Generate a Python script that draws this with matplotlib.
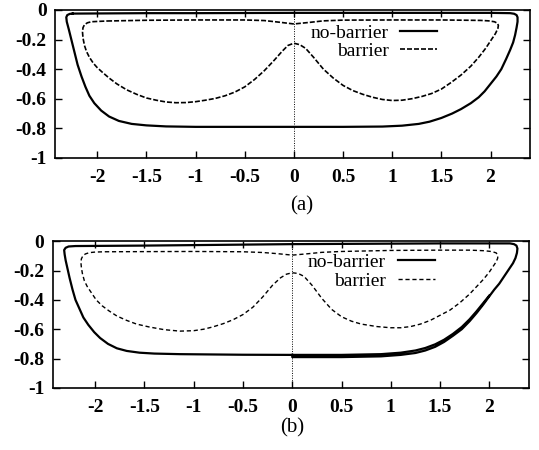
import matplotlib
matplotlib.use("Agg")
import matplotlib.pyplot as plt

# ---------------- data ----------------
# panel (a): no-barrier loop
a_nb_x = [-2.25, -1.5, -1.0, 0.0, 1.0, 2.0, 2.2, 2.24, 2.265, 2.275, 2.275, 2.265, 2.25, 2.23, 2.2,
          2.16, 2.11, 2.06, 2.0, 1.94, 1.88, 1.8, 1.7, 1.61, 1.5, 1.38, 1.27, 1.1, 0.9, 0.5, 0.0,
          -0.5, -1.0, -1.3, -1.5, -1.65, -1.78, -1.88, -1.96, -2.03, -2.08, -2.12, -2.16, -2.2,
          -2.23, -2.26, -2.29, -2.31, -2.315, -2.305, -2.28, -2.25]
a_nb_y = [-0.025, -0.022, -0.022, -0.02, -0.02, -0.02, -0.022, -0.026, -0.035, -0.05, -0.08, -0.12,
          -0.17, -0.22, -0.27, -0.33, -0.40, -0.45, -0.5, -0.55, -0.59, -0.63, -0.67, -0.70, -0.73,
          -0.755, -0.77, -0.782, -0.788, -0.79, -0.79, -0.79, -0.79, -0.787, -0.78, -0.77, -0.75,
          -0.72, -0.68, -0.63, -0.58, -0.52, -0.45, -0.37, -0.29, -0.21, -0.13, -0.08, -0.05, -0.035,
          -0.027, -0.025]
# panel (a): barrier loop
a_b_x = [-1.9, -1.5, -1.0, -0.5, -0.3, -0.15, 0.0, 0.15, 0.3, 0.5, 1.0, 1.5, 1.78, 1.9, 1.98, 2.04,
         2.07, 2.08, 2.075, 2.05, 2.01, 1.95, 1.88, 1.8, 1.7, 1.6, 1.5, 1.4, 1.3, 1.2, 1.1, 1.0, 0.9,
         0.8, 0.7, 0.6, 0.5, 0.4, 0.3, 0.2, 0.12, 0.06, 0.0, -0.06, -0.12, -0.2, -0.3, -0.4, -0.5,
         -0.6, -0.7, -0.8, -0.9, -1.0, -1.1, -1.2, -1.3, -1.4, -1.5, -1.6, -1.7, -1.8, -1.88, -1.95,
         -2.0, -2.04, -2.08, -2.11, -2.13, -2.145, -2.15, -2.145, -2.13, -2.1, -2.06, -2.0, -1.9]
a_b_y = [-0.075, -0.07, -0.068, -0.068, -0.072, -0.083, -0.095, -0.085, -0.074, -0.069, -0.068,
         -0.068, -0.07, -0.071, -0.074, -0.08, -0.09, -0.105, -0.125, -0.16, -0.2, -0.26, -0.32,
         -0.38, -0.44, -0.49, -0.535, -0.565, -0.585, -0.6, -0.61, -0.612, -0.605, -0.59, -0.57,
         -0.545, -0.51, -0.46, -0.4, -0.32, -0.26, -0.235, -0.225, -0.24, -0.28, -0.34, -0.41,
         -0.47, -0.52, -0.555, -0.58, -0.598, -0.61, -0.62, -0.626, -0.627, -0.622, -0.61, -0.595,
         -0.57, -0.54, -0.5, -0.46, -0.42, -0.39, -0.36, -0.32, -0.28, -0.24, -0.19, -0.15, -0.12,
         -0.1, -0.087, -0.08, -0.078, -0.075]
# panel (b): no-barrier trajectory (slightly more than one turn)
b_nb_x = [0.0, 0.0, 0.5, 0.9, 1.1, 1.25, 1.35, 1.45, 1.54, 1.63, 1.72, 1.8, 1.87, 1.94, 2.0, 2.05,
          2.1, 2.15, 2.2, 2.24, 2.265, 2.28, 2.285, 2.275, 2.25, 2.21, 1.5, 0.0, -1.5, -2.2, -2.27,
          -2.3, -2.315, -2.31, -2.3, -2.28, -2.26, -2.23, -2.2, -2.16, -2.12, -2.07, -2.01, -1.95,
          -1.87, -1.78, -1.68, -1.55, -1.4, -1.14, -0.5, 0.0, 0.5, 0.9, 1.1, 1.25, 1.35, 1.45, 1.54,
          1.63, 1.72, 1.8, 1.87, 1.94, 2.0]
b_nb_y = [-0.775, -0.79, -0.79, -0.785, -0.775, -0.762, -0.745, -0.72, -0.687, -0.645, -0.6,
          -0.545, -0.49, -0.43, -0.375, -0.33, -0.29, -0.24, -0.19, -0.15, -0.115, -0.08, -0.05,
          -0.03, -0.02, -0.015, -0.015, -0.02, -0.03, -0.033, -0.036, -0.045, -0.06, -0.09, -0.13,
          -0.19, -0.25, -0.33, -0.4, -0.46, -0.52, -0.57, -0.62, -0.66, -0.7, -0.73, -0.748,
          -0.76, -0.766, -0.77, -0.774, -0.775, -0.775, -0.77, -0.76, -0.745, -0.728, -0.703,
          -0.672, -0.632, -0.585, -0.532, -0.478, -0.42, -0.37]
# panel (b): barrier loop
b_b_x = [-1.9, -1.5, -1.0, -0.5, -0.3, -0.15, 0.0, 0.15, 0.3, 0.5, 1.0, 1.5, 1.8, 1.95, 2.03, 2.07,
         2.085, 2.085, 2.07, 2.04, 2.0, 1.94, 1.87, 1.8, 1.7, 1.6, 1.5, 1.4, 1.3, 1.2, 1.1, 1.0, 0.86,
         0.7, 0.6, 0.5, 0.4, 0.3, 0.2, 0.12, 0.06, 0.0, -0.06, -0.12, -0.2, -0.3, -0.4, -0.5, -0.6,
         -0.7, -0.81, -0.9, -1.0, -1.14, -1.3, -1.45, -1.58, -1.68, -1.78, -1.86, -1.93, -1.99,
         -2.04, -2.08, -2.11, -2.13, -2.14, -2.145, -2.14, -2.125, -2.1, -2.06, -2.0, -1.9]
b_b_y = [-0.072, -0.071, -0.07, -0.072, -0.077, -0.085, -0.095, -0.086, -0.076, -0.07, -0.063,
         -0.061, -0.061, -0.065, -0.071, -0.08, -0.095, -0.115, -0.14, -0.17, -0.21, -0.26, -0.31,
         -0.36, -0.42, -0.47, -0.505, -0.54, -0.565, -0.582, -0.59, -0.59, -0.582, -0.565, -0.545,
         -0.515, -0.465, -0.39, -0.3, -0.24, -0.22, -0.215, -0.225, -0.25, -0.3, -0.38, -0.45,
         -0.5, -0.535, -0.562, -0.585, -0.6, -0.61, -0.613, -0.603, -0.585, -0.565, -0.54, -0.51,
         -0.475, -0.44, -0.4, -0.35, -0.31, -0.27, -0.22, -0.18, -0.145, -0.12, -0.1, -0.087,
         -0.078, -0.074, -0.072]

x_ticks = [-2, -1.5, -1, -0.5, 0, 0.5, 1, 1.5, 2]
x_tick_labels = ["-2", "-1.5", "-1", "-0.5", "0", "0.5", "1", "1.5", "2"]
y_ticks = [0, -0.2, -0.4, -0.6, -0.8, -1]
y_tick_labels = ["0", "-0.2", "-0.4", "-0.6", "-0.8", "-1"]
series_labels = ["no-barrier", "barrier"]
captions = ["(a)", "(b)"]

# ---------------- figure ----------------
plt.rcParams['font.family'] = ['Liberation Serif', 'DejaVu Serif']
fig = plt.figure(figsize=(5.39, 4.5), dpi=100)

panels = [
    dict(rect=[0.102, 0.649, 0.881, 0.329], nb=(a_nb_x, a_nb_y), b=(a_b_x, a_b_y),
         dash=(0, (3, 1.2)), blw=1.2, leg=(0.805, 0.905), cap=(0.56, 0.542), cap_text=captions[0]),
    dict(rect=[0.098, 0.138, 0.883, 0.326], nb=(b_nb_x, b_nb_y), b=(b_b_x, b_b_y),
         dash=(0, (3, 2)), blw=1.0, leg=(0.802, 0.915), cap=(0.542, 0.05), cap_text=captions[1]),
]

for p in panels:
    ax = fig.add_axes(p['rect'])
    ax.plot(p['nb'][0], p['nb'][1], color='black', lw=1.6, label=series_labels[0],
            solid_joinstyle='round')
    ax.plot(p['b'][0], p['b'][1], color='black', lw=p['blw'], linestyle=p['dash'],
            label=series_labels[1])
    ax.axvline(0, color='black', lw=0.7, linestyle=(0, (1, 1.5)))
    ax.set_xlim(-2.43, 2.4)
    ax.set_ylim(-1, 0)
    ax.set_xticks(x_ticks)
    ax.set_xticklabels(x_tick_labels)
    ax.set_yticks(y_ticks)
    ax.set_yticklabels(y_tick_labels)
    ax.tick_params(direction='in', top=True, right=True, length=5, width=1.0,
                   labelsize=14)
    ax.tick_params(axis='x', pad=8)
    ax.tick_params(axis='y', pad=6)
    for lab in ax.get_xticklabels() + ax.get_yticklabels():
        lab.set_fontweight('bold')
    for s in ax.spines.values():
        s.set_linewidth(1.2)
    ax.legend(loc='upper right', bbox_to_anchor=p['leg'], frameon=False, markerfirst=False,
              fontsize=14, handlelength=1.9, handletextpad=0.6, labelspacing=0.05,
              borderpad=0, borderaxespad=0)
    fig.text(p['cap'][0], p['cap'][1], p['cap_text'], ha='center', va='center', fontsize=15)

fig.savefig('out.png', dpi=100)
